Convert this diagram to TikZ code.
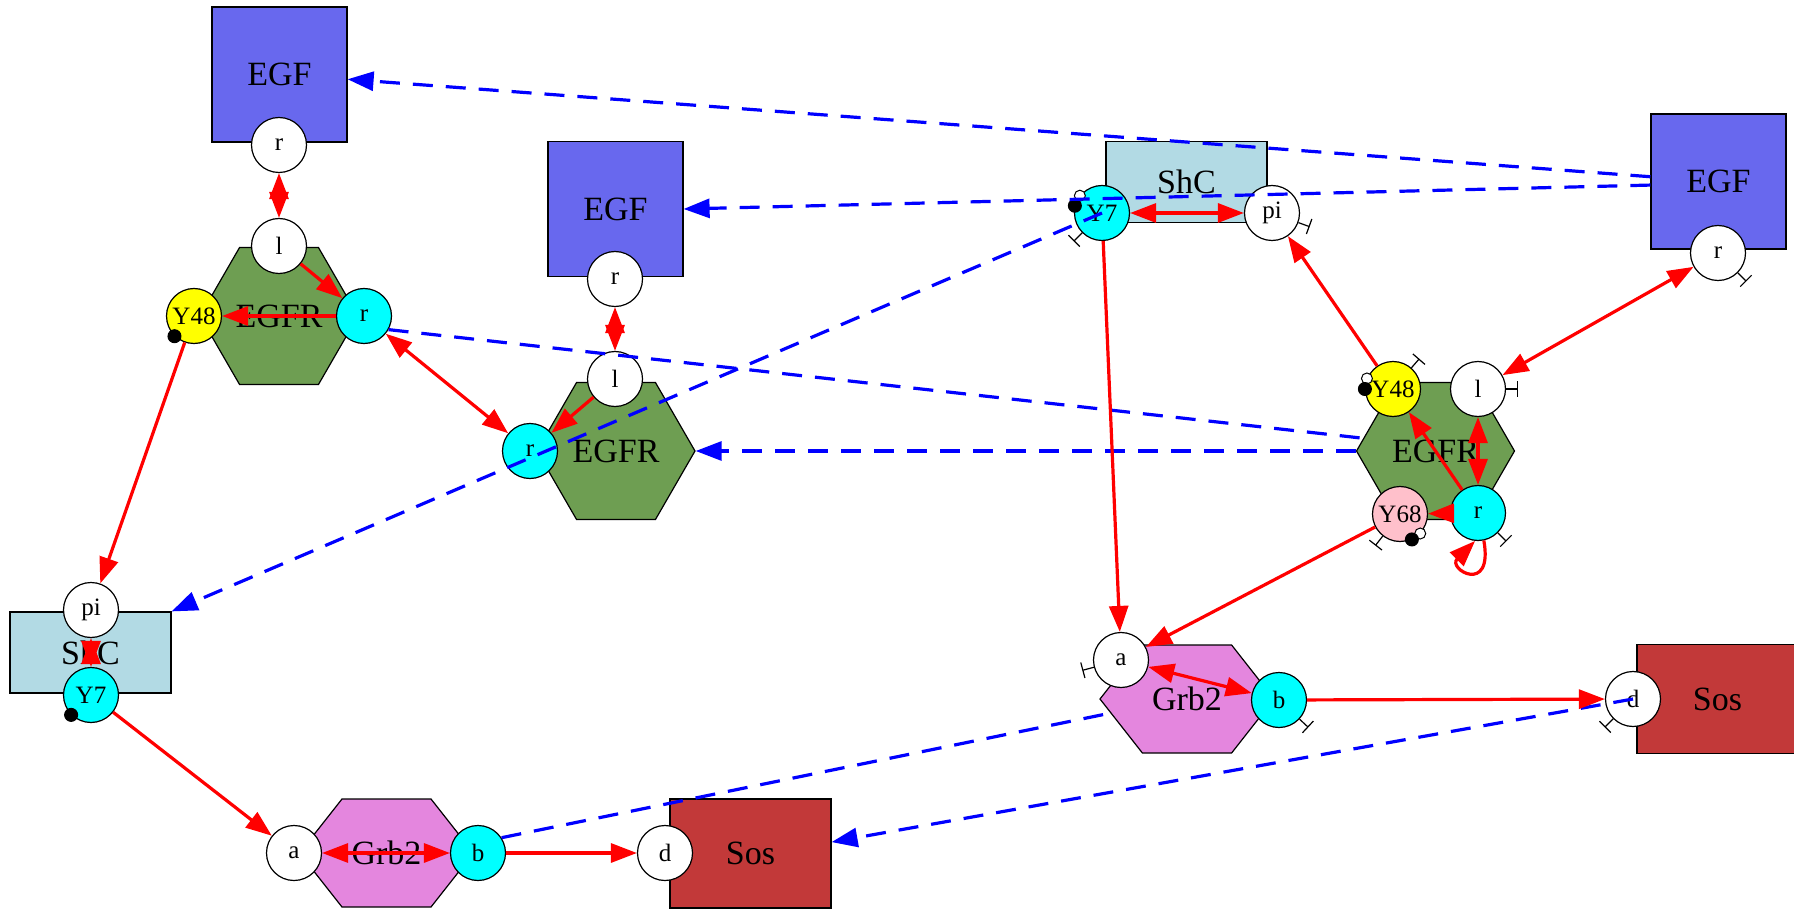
\documentclass[tikz,border=0pt]{standalone}
\usepackage{fontspec}
\setmainfont{Liberation Serif}
\usetikzlibrary{arrows.meta,shapes.geometric}

\definecolor{egfcol}{RGB}{104,104,238}
\definecolor{egfrcol}{RGB}{110,158,82}
\definecolor{shccol}{RGB}{178,218,228}
\definecolor{grbcol}{RGB}{228,134,222}
\definecolor{soscol}{RGB}{194,57,57}
\definecolor{pinkcol}{RGB}{255,192,203}
\definecolor{cyancol}{RGB}{0,255,255}
\definecolor{yellowcol}{RGB}{255,255,0}
\definecolor{redcol}{RGB}{255,0,0}
\definecolor{bluecol}{RGB}{0,0,255}

\newcommand{\agentfont}{\fontsize{17}{20}\selectfont}
\newcommand{\sitefont}{\fontsize{12.5}{15}\selectfont}

\tikzset{
  agent/.style={draw, line width=0.6pt, inner sep=0pt, font=\agentfont},
  egfbox/.style={agent, fill=egfcol, minimum width=67.5pt, minimum height=67.5pt},
  shcbox/.style={agent, fill=shccol, minimum width=80.5pt, minimum height=40.5pt},
  sosbox/.style={agent, fill=soscol, minimum width=80.5pt, minimum height=54.5pt},
  egfrhex/.style={agent, fill=egfrcol, regular polygon, regular polygon sides=6, minimum size=79pt},
  grbhex/.style={draw, line width=0.6pt, fill=grbcol},
  site/.style={circle, draw, line width=0.6pt, fill=white, minimum size=27.5pt, inner sep=0pt, font=\sitefont},
  phos/.style={circle, draw, line width=0.5pt, fill=black, minimum size=6.5pt, inner sep=0pt},
  unphos/.style={circle, draw, line width=0.5pt, fill=white, minimum size=5.5pt, inner sep=0pt},
  teebar/.style={line width=0.6pt, -{Bar[width=8pt,line width=0.6pt]}},
  bond/.style={redcol, line width=1.6pt, -{Triangle[length=13pt,width=9.5pt]}},
  bibond/.style={redcol, line width=1.6pt, {Triangle[length=13pt,width=9.5pt]}-{Triangle[length=13pt,width=9.5pt]}},
  flow/.style={bluecol, line width=1.6pt, dash pattern=on 10pt off 6.5pt, -{Triangle[length=13pt,width=9.5pt]}},
  flowline/.style={bluecol, line width=1.6pt, dash pattern=on 10pt off 6.5pt},
}

\begin{document}
\begin{tikzpicture}[x=0.5pt,y=-0.5pt]
  \useasboundingbox (0,0) rectangle (1794,909);

  \node[egfbox] (egf1) at (279.5,74.5) {EGF};
  \node[egfbox] (egf2) at (615.5,209) {EGF};
  \node[egfbox] (egf3) at (1718.5,181.5) {EGF};
  \node[shcbox] (shc1) at (90.5,652.5) {ShC};
  \node[shcbox] (shc2) at (1186.5,182) {ShC};
  \node[sosbox] (sos1) at (750.5,853.5) {Sos};
  \node[sosbox] (sos2) at (1717.5,699) {Sos};
  \node[egfrhex] (egfr1) at (279,316) {EGFR};
  \node[egfrhex] (egfr2) at (616,451) {EGFR};
  \node[egfrhex] (egfr3) at (1435.5,451) {EGFR};
  \draw[grbhex] (299.5,853) -- (342,799) -- (431,799) -- (473.5,853) -- (431,907) -- (342,907) -- cycle;
  \node[font=\agentfont] (grb1) at (386.5,853) {Grb2};
  \draw[grbhex] (1100,699) -- (1142.4,645) -- (1231.6,645) -- (1274,699) -- (1231.6,753) -- (1142.4,753) -- cycle;
  \node[font=\agentfont] (grb2) at (1187,699) {Grb2};
  \coordinate (grb2sw) at (1111,713);

  \node[site] (egf1r) at (279,145) {r};
  \node[site] (egfr1l) at (279,246) {l};
  \node[site, fill=yellowcol] (egfr1y48) at (194,316) {Y48};
  \node[site, fill=cyancol] (egfr1r) at (364,316) {r};
  \node[site] (egf2r) at (615,279) {r};
  \node[site] (egfr2l) at (615,379) {l};
  \node[site, fill=cyancol] (egfr2r) at (530,451) {r};
  \node[site] (shc1pi) at (91,610) {pi};
  \node[site, fill=cyancol] (shc1y7) at (91,695) {Y7};
  \node[site] (grb1a) at (294,853) {a};
  \node[site, fill=cyancol] (grb1b) at (478,853) {b};
  \node[site] (sos1d) at (665,853) {d};
  \node[site, fill=cyancol] (shc2y7) at (1102,213) {Y7};
  \node[site] (shc2pi) at (1272,213) {pi};
  \node[site] (egf3r) at (1718,253) {r};
  \node[site, fill=yellowcol] (egfr3y48) at (1393,389) {Y48};
  \node[site] (egfr3l) at (1478,389) {l};
  \node[site, fill=pinkcol] (egfr3y68) at (1400,514) {Y68};
  \node[site, fill=cyancol] (egfr3r) at (1478,513) {r};
  \node[site] (grb2a) at (1121,660) {a};
  \node[site, fill=cyancol] (grb2b) at (1279,700) {b};
  \node[site] (sos2d) at (1633,699) {d};

  \foreach \n/\a in {shc2y7/142, egfr3y48/158, egfr3y68/-44}
    \node[unphos] (\n u) at (\n.\a) {};
  \foreach \n/\a in {egfr1y48/-134, shc1y7/-135, shc2y7/165, egfr3y48/180, egfr3y68/-65}
    \node[phos] (\n p) at (\n.\a) {};
  \foreach \n/\a in {shc2y7/-135, shc2pi/-20, egf3r/-45, egfr3y48/49, egfr3l/0, egfr3y68/-128, egfr3r/-45, grb2a/-165, grb2b/-43, sos2d/-135}
    \draw[teebar] (\n.\a) -- +(\a:6pt);

  \draw[flow] (egf3.176) -- (egf1.-4);
  \draw[flow] (egf3.183) -- (egf2.east);
  \draw[flowline] (egfr1r.-29) -- (egfr3.170);
  \draw[flow] (egfr3.west) -- (egfr2.east);
  \draw[flow] (shc2y7.center) -- (shc1.north east);
  \draw[flowline] (grb1b.33) -- (grb2sw);
  \draw[flow] (sos2d.center) -- (sos1.8);

  \draw[bibond] (egf1r) -- (egfr1l);
  \draw[bond] (egfr1l) -- (egfr1r);
  \draw[bond] (egfr1r) -- (egfr1y48);
  \draw[bond] (egfr1y48) -- (shc1pi);
  \draw[bibond] (egfr1r) -- (egfr2r);
  \draw[bibond] (egf2r) -- (egfr2l);
  \draw[bond] (egfr2l) -- (egfr2r);
  \draw[bibond] (shc1pi) -- (shc1y7);
  \draw[bond] (shc1y7) -- (grb1a);
  \draw[bibond] (grb1a) -- (grb1b);
  \draw[bond] (grb1b) -- (sos1d);
  \draw[bibond] (shc2y7) -- (shc2pi);
  \draw[bond] (shc2y7) -- (grb2a);
  \draw[bond] (egfr3y48) -- (shc2pi);
  \draw[bibond] (egf3r) -- (egfr3l);
  \draw[bibond] (egfr3l) -- (egfr3r);
  \draw[bond] (egfr3r) -- (egfr3y48);
  \draw[bond] (egfr3r) -- (egfr3y68);
  \draw[bond] (egfr3r.-78) .. controls +(-80:28pt) and +(-135:20pt) .. (egfr3r.-96);
  \draw[bond] (egfr3y68) -- (grb2a);
  \draw[bibond] (grb2a) -- (grb2b);
  \draw[bond] (grb2b) -- (sos2d);
\end{tikzpicture}
\end{document}
